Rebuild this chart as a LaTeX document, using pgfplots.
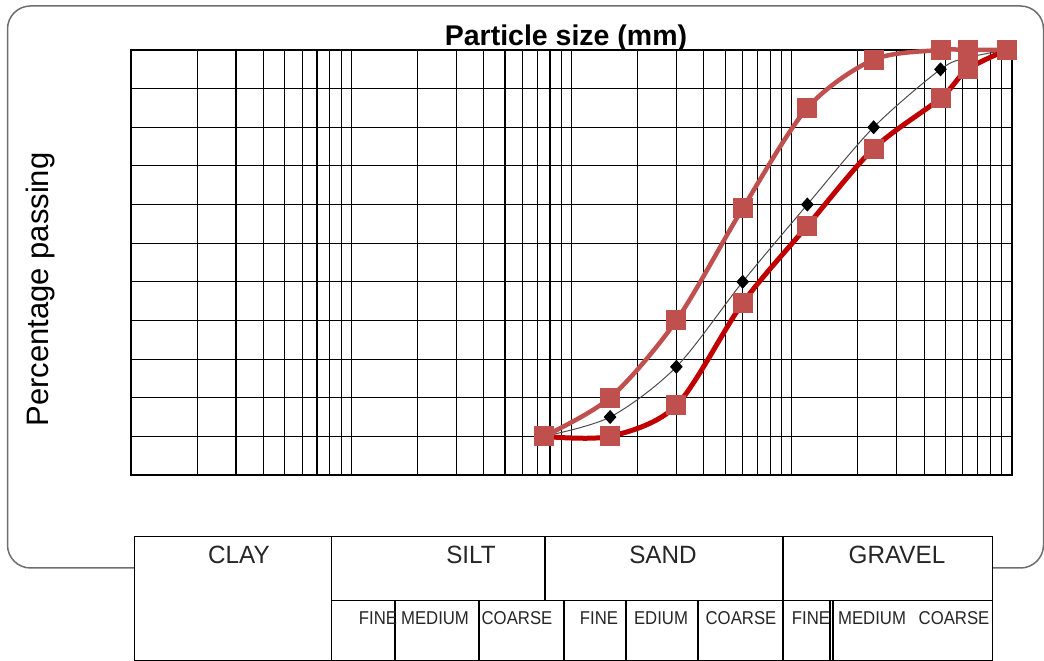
\documentclass[border=0pt]{standalone}
\usepackage{fontspec}
\setmainfont{Liberation Sans}
\usepackage{graphicx}
\usepackage{pgfplots}
\pgfplotsset{compat=1.18}
\definecolor{cA}{RGB}{192,80,77}
\definecolor{cB}{RGB}{192,0,0}
\definecolor{frame}{RGB}{110,110,110}
\newcommand{\tA}[1]{\scalebox{0.97}[1]{#1}}
\newcommand{\tB}[1]{\scalebox{0.9}[1]{#1}}
\begin{document}
\begin{tikzpicture}[x=1pt,y=1pt]
\useasboundingbox (0,0) rectangle (1044,661);
% outer rounded frame
\draw[frame, line width=1.5pt, rounded corners=23pt] (7.5,655) rectangle (1043.5,93);
\begin{axis}[
  at={(131pt,186pt)}, anchor=south west,
  width=880.7pt, height=425pt, scale only axis,
  xmode=log, log basis x=10,
  xmin=0.001, xmax=10, ymin=-10, ymax=100,
  xtick={0.001,0.01,0.1,1,10},
  minor xtick={0.002,0.003,0.004,0.005,0.006,0.007,0.008,0.009,
               0.02,0.03,0.04,0.05,0.06,0.07,0.08,0.09,
               0.2,0.3,0.4,0.5,0.6,0.7,0.8,0.9,
               2,3,4,5,6,7,8,9},
  ytick={-10,0,10,20,30,40,50,60,70,80,90,100},
  xmajorgrids, xminorgrids, ymajorgrids,
  grid style={black, line width=1.15pt},
  minor grid style={black, line width=1.15pt},
  major tick length=0pt, minor tick length=0pt,
  xticklabels={}, yticklabels={},
  tick label style={text opacity=0},
  axis line style={line width=2pt},
  clip=false,
]
\addplot[black!70, line width=1pt, smooth, mark=diamond*, mark size=6.3pt,
  mark options={fill=black, draw=black, xscale=1.2}]
  coordinates {(0.075,0)(0.15,5)(0.3,18)(0.6,40)(1.18,60)(2.36,80)(4.75,95)(6.3,98)(9.5,100)};
\addplot[cA, line width=4.5pt, smooth, mark=square*, mark size=9.5pt,
  mark options={fill=cA, draw=cA, line width=0pt}]
  coordinates {(0.075,0)(0.15,10)(0.3,30)(0.6,59)(1.18,85)(2.36,97.5)(4.75,100)(6.3,100)(9.5,100)};
\addplot[cB, line width=5pt, smooth, mark=square*, mark size=9.5pt,
  mark options={fill=cA, draw=cA, line width=0pt}]
  coordinates {(0.075,0)(0.15,0)(0.3,8)(0.6,34.5)(1.18,54.5)(2.36,74.5)(4.75,87.5)(6.3,95)(9.5,100)};
\end{axis}
% titles
\node[anchor=base, font=\fontsize{28.5}{30}\selectfont\bfseries] at (566,615) {Particle size (mm)};
\node[rotate=90, anchor=base, font=\fontsize{31}{32}\selectfont] at (48,371.5) {Percentage passing};
% classification table
\fill[white] (134.5,124.5) rectangle (992.5,-2);
\begin{scope}[line width=1.8pt, black]
\draw (134.5,124.5) rectangle (992.5,0.5);
\draw (331.5,60.5) -- (992.5,60.5);
\draw (331.5,124.5) -- (331.5,0.5);
\draw (545,124.5) -- (545,60.5);
\draw (782.7,124.5) -- (782.7,0.5);
\foreach \xx in {395,479.3,563.7,626,698.3,830,832.7} {\draw (\xx,60.5) -- (\xx,0.5);}
\end{scope}
\begin{scope}[font=\fontsize{25}{27}\selectfont, text=black!85]
\node[anchor=base] at (239,97) {\tA{CLAY}};
\node[anchor=base] at (471,97) {\tA{SILT}};
\node[anchor=base] at (663,97) {\tA{SAND}};
\node[anchor=base] at (897,97) {\tA{GRAVEL}};
\end{scope}
\begin{scope}[font=\fontsize{18.6}{20}\selectfont, text=black!85]
\node[anchor=base] at (378,36) {\tB{FINE}};
\node[anchor=base] at (435,36) {\tB{MEDIUM}};
\node[anchor=base] at (517,36) {\tB{COARSE}};
\node[anchor=base] at (599,36) {\tB{FINE}};
\node[anchor=base] at (661,36) {\tB{EDIUM}};
\node[anchor=base] at (741,36) {\tB{COARSE}};
\node[anchor=base] at (811,36) {\tB{FINE}};
\node[anchor=base] at (872,36) {\tB{MEDIUM}};
\node[anchor=base] at (954,36) {\tB{COARSE}};
\end{scope}
\end{tikzpicture}
\end{document}
